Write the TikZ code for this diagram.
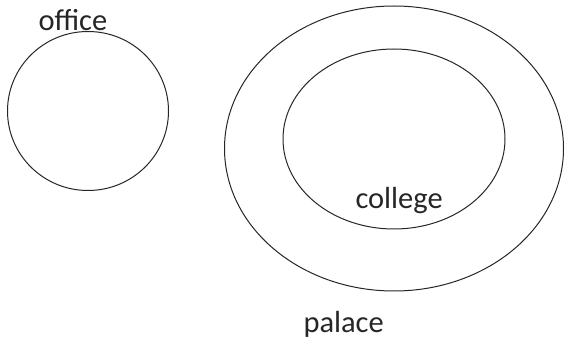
\documentclass[tikz,border=0pt]{standalone}
\usepackage{fontspec}
\setmainfont{Carlito}
\begin{document}
\begin{tikzpicture}[x=1pt, y=-1pt, line width=1pt,
    setlabel/.style={inner sep=0pt, anchor=base west, text=black!85, font=\fontsize{30.5}{36}\selectfont}]
    \useasboundingbox (0,0) rectangle (565,344);
    \draw[black!85] (88,111) ellipse [x radius=80.5, y radius=79.5];
    \draw[black!85] (394,148.5) ellipse [x radius=169.5, y radius=142.5];
    \draw[black!85] (394,139) ellipse [x radius=111, y radius=90];
    \node[setlabel] (office) at (38,31) {office};
    \node[setlabel] (college) at (355,209) {college};
    \node[setlabel] (palace) at (303,333) {palace};
\end{tikzpicture}
\end{document}
